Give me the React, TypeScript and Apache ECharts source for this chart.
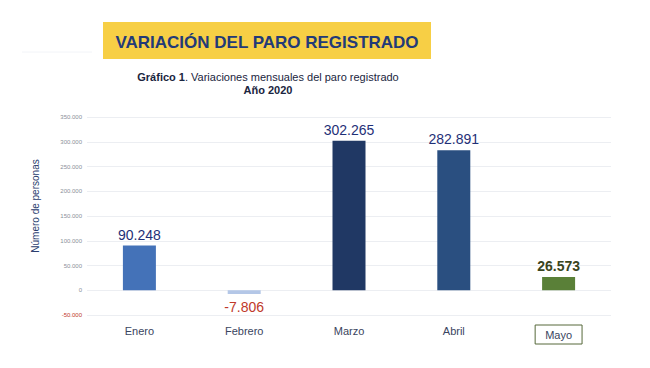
import React, { useEffect, useRef } from "react";
import * as echarts from "echarts";

const categories = ["Enero", "Febrero", "Marzo", "Abril", "Mayo"];
const values = [90248, -7806, 302265, 282891, 26573];
const barColors = ["#4472b8", "#b4c7e7", "#203864", "#2a4f80", "#5a8038"];
const labelColors = ["#1f3077", "#c0392b", "#1f3077", "#1f3077", "#3a4520"];
const labelBold = [false, false, false, false, true];

const fmt = (v: number) => {
  const s = Math.abs(v).toString().replace(/\B(?=(\d{3})+(?!\d))/g, ".");
  return (v < 0 ? "-" : "") + s;
};

export default function App() {
  const ref = useRef<HTMLDivElement>(null);
  useEffect(() => {
    if (!ref.current) return;
    const chart = echarts.init(ref.current, undefined, { renderer: "svg" });
    chart.setOption({
      animation: false,
      backgroundColor: "#ffffff",
      textStyle: { fontFamily: "Liberation Sans, Arial, sans-serif" },
      graphic: [
        {
          type: "rect",
          shape: { x: 103, y: 22, width: 328, height: 37 },
          style: { fill: "#f7cf45" },
        },
        {
          type: "text",
          x: 267,
          y: 42,
          style: {
            text: "VARIACIÓN DEL PARO REGISTRADO",
            fill: "#233a78",
            font: "bold 17px Liberation Sans, Arial, sans-serif",
            align: "center",
            verticalAlign: "middle",
          },
        },
        {
          type: "line",
          shape: { x1: 22, y1: 52, x2: 92, y2: 52 },
          style: { stroke: "#f2f4f8", lineWidth: 1 },
        },
        {
          type: "text",
          x: 268,
          y: 77,
          style: {
            text: "{b|Gráfico 1}{n|. Variaciones mensuales del paro registrado}",
            align: "center",
            verticalAlign: "middle",
            rich: {
              b: { font: "bold 11px Liberation Sans, Arial, sans-serif", fill: "#1a2540" },
              n: { font: "11px Liberation Sans, Arial, sans-serif", fill: "#1a2540" },
            },
          },
        },
        {
          type: "text",
          x: 268,
          y: 90,
          style: {
            text: "Año 2020",
            fill: "#1a2540",
            font: "bold 11px Liberation Sans, Arial, sans-serif",
            align: "center",
            verticalAlign: "middle",
          },
        },
        {
          type: "text",
          x: 35,
          y: 206,
          rotation: Math.PI / 2,
          style: {
            text: "Número de personas",
            fill: "#2a3d6e",
            font: "10px Liberation Sans, Arial, sans-serif",
            align: "center",
            verticalAlign: "middle",
          },
        },
      ],
      grid: { left: 87, right: 39, top: 117, bottom: 53 },
      xAxis: {
        type: "category",
        data: categories,
        axisLine: { show: false },
        axisTick: { show: false },
        axisLabel: {
          margin: 10,
          fontSize: 11,
          color: "#3a4560",
          formatter: (v: string) => (v === "Mayo" ? "{box|Mayo}" : v),
          rich: {
            box: {
              fontSize: 11,
              color: "#3a4560",
              borderColor: "#56693a",
              borderWidth: 1,
              padding: [4, 10, 4, 10],
            },
          },
        },
      },
      yAxis: {
        type: "value",
        min: -50000,
        max: 350000,
        interval: 50000,
        axisLine: { show: false },
        axisTick: { show: false },
        splitLine: { lineStyle: { color: "#eceef2" } },
        axisLabel: {
          fontSize: 6,
          color: "#8a8f99",
          margin: 5,
          formatter: (v: number) => (v < 0 ? "{r|" + fmt(v) + "}" : fmt(v)),
          rich: { r: { fontSize: 6, color: "#c0392b" } },
        },
      },
      series: [
        {
          type: "bar",
          barWidth: 33,
          data: values.map((v, i) => ({
            value: v,
            itemStyle: { color: barColors[i] },
            label: {
              show: true,
              position: v < 0 ? "bottom" : "top",
              distance: v < 0 ? 6 : 4,
              formatter: () => fmt(v),
              fontSize: 14,
              color: labelColors[i],
              fontWeight: labelBold[i] ? "bold" : "normal",
            },
          })),
        },
      ],
    });
    return () => chart.dispose();
  }, []);
  return (
    <div
      ref={ref}
      style={{ position: "absolute", left: 0, top: 0, width: 650, height: 368 }}
    />
  );
}
